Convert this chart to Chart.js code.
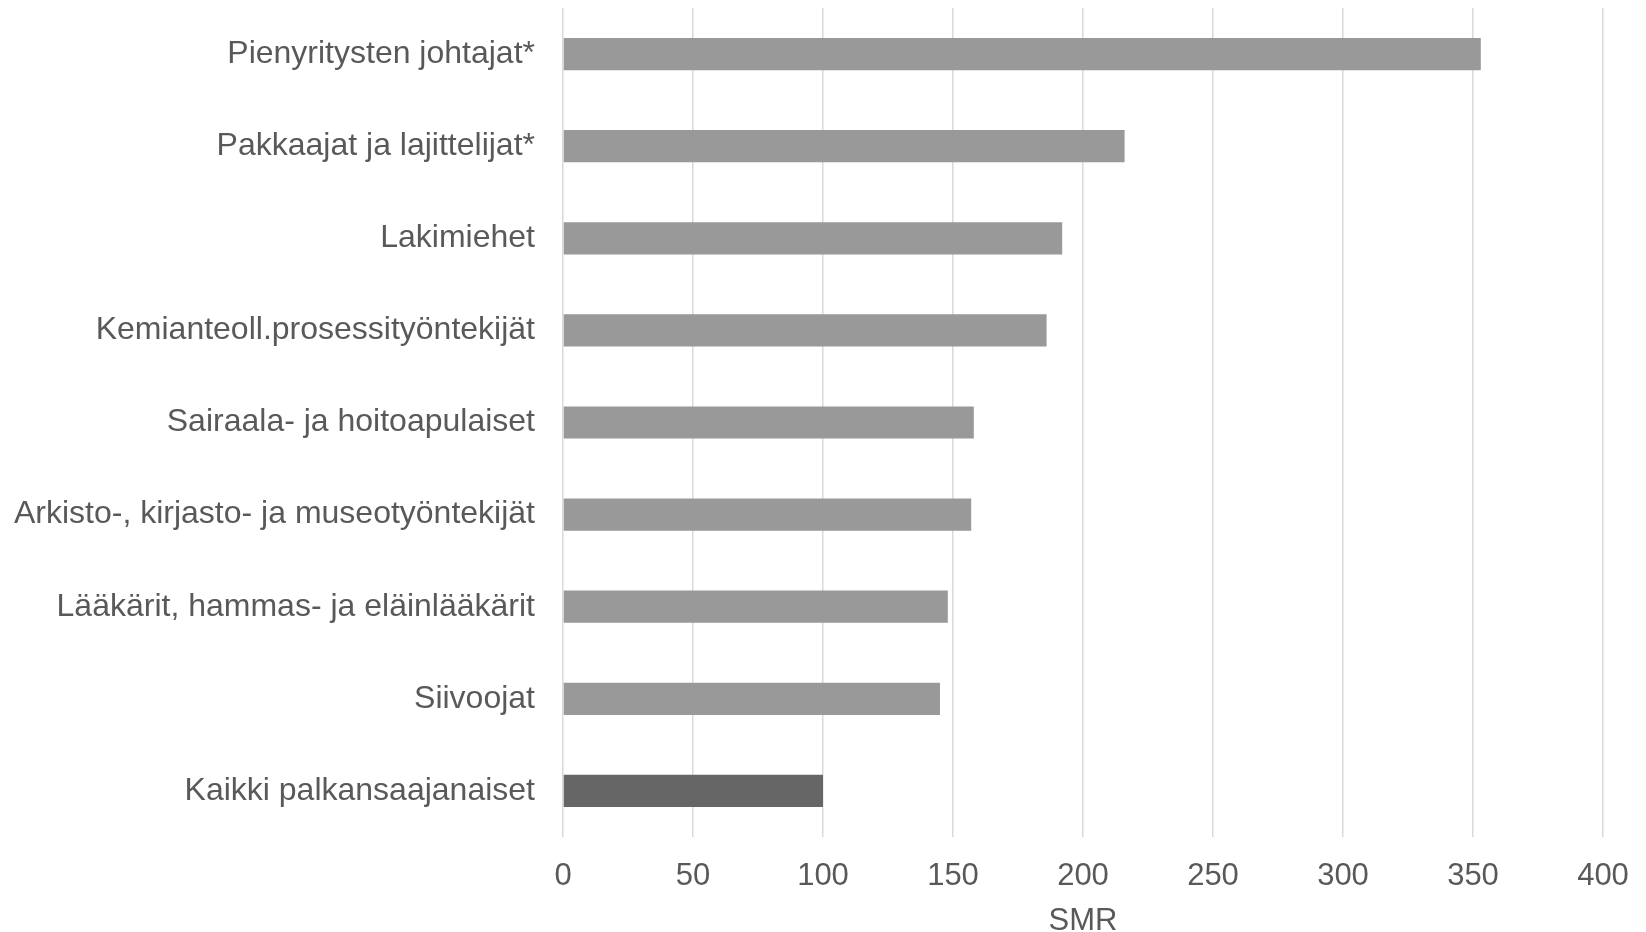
<!DOCTYPE html>
<html>
<head>
<meta charset="utf-8">
<script src="https://cdn.jsdelivr.net/npm/chart.js@4"></script>
<style>
    html, body { margin: 0; padding: 0; background: #fff; }
    #wrap { width: 1646px; height: 932px; position: relative; }
</style>
</head>
<body>
<div id="wrap"><canvas id="smrChart"></canvas></div>
<script>
// === DATA ===
const categories = [
    'Pienyritysten johtajat*',
    'Pakkaajat ja lajittelijat*',
    'Lakimiehet',
    'Kemianteoll.prosessityöntekijät',
    'Sairaala- ja hoitoapulaiset',
    'Arkisto-, kirjasto- ja museotyöntekijät',
    'Lääkärit, hammas- ja eläinlääkärit',
    'Siivoojat',
    'Kaikki palkansaajanaiset'
];
const smrValues = [353, 216, 192, 186, 158, 157, 148, 145, 100];
const barColors = ['#999999', '#999999', '#999999', '#999999', '#999999', '#999999', '#999999', '#999999', '#666666'];
const xTicks = [0, 50, 100, 150, 200, 250, 300, 350, 400];
const xTitle = 'SMR';

const textColor = '#595959';
const fontFamily = '"Liberation Sans", Arial, sans-serif';

// === SMR (VAAKAPALKIT) ===
const ctx = document.getElementById('smrChart').getContext('2d');
new Chart(ctx, {
    type: 'bar',
    data: {
        labels: categories,
        datasets: [{
            label: xTitle,
            data: smrValues,
            backgroundColor: barColors,
            borderWidth: 0,
            categoryPercentage: 1,
            barPercentage: 0.35
        }]
    },
    options: {
        indexAxis: 'y',
        responsive: true,
        maintainAspectRatio: false,
        animation: false,
        layout: { padding: { top: 8, right: 43, bottom: 0, left: 0 } },
        plugins: {
            legend: { display: false },
            tooltip: { enabled: false }
        },
        scales: {
            x: {
                min: xTicks[0],
                max: xTicks[xTicks.length - 1],
                afterBuildTicks: axis => { axis.ticks = xTicks.map(v => ({ value: v })); },
                afterFit: axis => {
                    axis.height = 95;
                    axis.paddingLeft = 0;
                    axis.paddingRight = 0;
                },
                grid: { color: '#d9d9d9', lineWidth: 1.5, drawTicks: false },
                border: { display: false },
                ticks: {
                    color: textColor,
                    padding: 21,
                    font: { family: fontFamily, size: 31 }
                },
                title: {
                    display: true,
                    text: xTitle,
                    color: textColor,
                    padding: { top: 0, bottom: -5 },
                    font: { family: fontFamily, size: 31, lineHeight: 1 }
                }
            },
            y: {
                grid: { display: false, drawTicks: false },
                border: { display: false },
                afterFit: axis => {
                    axis.width = 563;
                    axis.paddingTop = 0;
                    axis.paddingBottom = 0;
                },
                ticks: {
                    color: textColor,
                    padding: 28,
                    font: { family: fontFamily, size: 32 }
                }
            }
        }
    }
});
</script>
</body>
</html>
